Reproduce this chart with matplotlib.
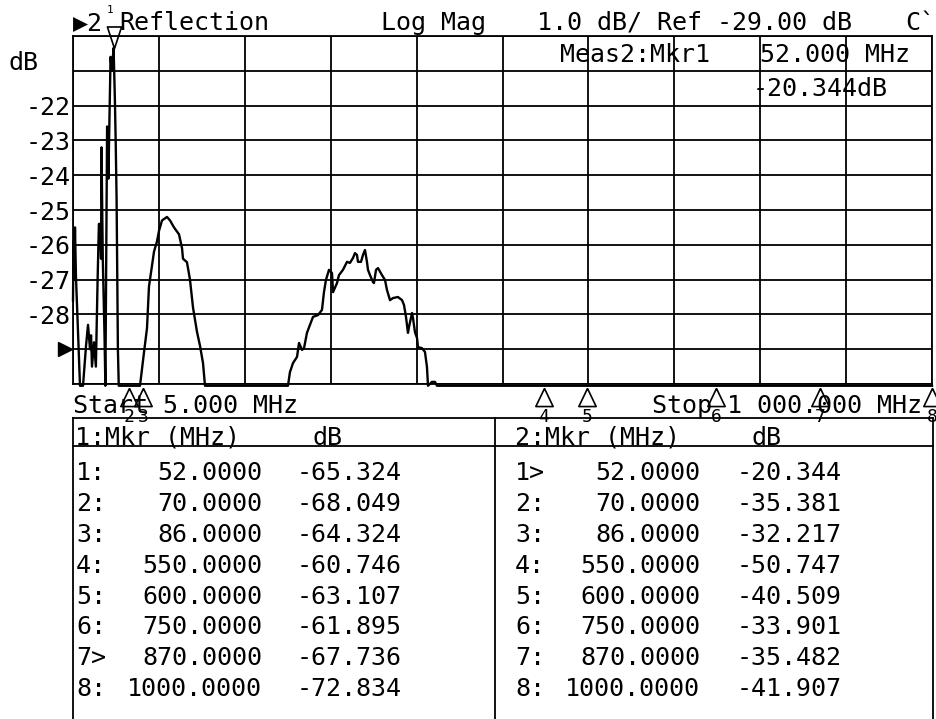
import matplotlib.pyplot as plt
from matplotlib.lines import Line2D

# Meas2 trace (Reflection, Log Mag), -30.05 = clipped at the bottom line
trace_freq = [5.0, 5.6, 6.4, 7.3, 8.4, 10.8, 13.1, 16.6, 20.1, 22.4, 24.7, 25.9, 27.0,
              29.3, 31.5, 33.5, 35.0, 36.5, 37.5, 38.0, 39.5, 41.5, 42.5, 44.5, 46.0,
              48.5, 50.0, 52.0, 53.5, 54.5, 55.5, 57.0, 58.0,
              82.6, 87.2, 90.7, 93.0, 96.5, 98.8, 102.3, 104.6, 108.1, 113.9, 117.4,
              122.0, 127.8, 131.3, 132.4, 137.0, 140.5, 144.0, 148.6, 152.1, 155.6, 157.9,
              254.0, 256.3, 259.8, 264.5, 266.8, 270.3, 272.6, 276.0, 279.5, 283.0,
              288.8, 293.4, 295.7, 298.0, 301.5, 305.0, 306.2, 310.8, 313.1, 317.7,
              322.4, 325.8, 329.3, 331.6, 333.9, 335.1, 338.6, 340.9, 343.2, 345.5,
              346.7, 349.0, 352.5, 353.6, 356.0, 358.3, 362.9, 366.4, 368.7, 372.2,
              375.7, 381.4, 386.1, 388.4, 390.7, 393.0, 394.2, 397.7, 398.8, 401.1,
              403.5, 404.6, 409.2, 412.7, 415.0, 416.2, 420.8, 424.3, 426.6, 1000.0]
trace_db = [-27.6, -25.9, -27.0, -25.5, -26.9, -28.5, -30.05, -30.05, -28.9, -28.3, -29.0, -28.6, -29.5,
            -28.8, -29.5, -27.0, -25.4, -25.4, -26.4, -23.2, -26.4, -28.6, -30.05, -22.6, -24.1,
            -20.6, -21.0, -20.344, -21.8, -23.1, -24.7, -29.0, -30.05,
            -30.05, -29.1, -28.4, -27.2, -26.6, -26.2, -25.9, -25.6, -25.3, -25.2, -25.3,
            -25.5, -25.7, -26.1, -26.4, -26.5, -27.0, -27.8, -28.5, -28.9, -29.4, -30.05,
            -30.05, -29.66, -29.40, -29.22, -28.82, -29.02, -28.97, -28.53, -28.30, -28.07,
            -28.02, -27.87, -27.36, -27.01, -26.72, -26.81, -27.36, -27.10, -26.87, -26.72,
            -26.49, -26.52, -26.38, -26.24, -26.29, -26.49, -26.49, -26.29, -26.15, -26.49,
            -26.72, -26.87, -27.07, -27.10, -26.72, -26.67, -26.87, -27.01, -27.30, -27.59,
            -27.53, -27.50, -27.59, -27.73, -28.07, -28.53, -28.36, -27.96, -28.10, -28.51,
            -28.68, -28.94, -28.97, -29.08, -29.51, -30.05, -29.94, -29.94, -30.05, -30.05]

mkr_freq = [52, 70, 86, 550, 600, 750, 870, 1000]
meas1_db = [-65.324, -68.049, -64.324, -60.746, -63.107, -61.895, -67.736, -72.834]
meas2_db = [-20.344, -35.381, -32.217, -50.747, -40.509, -33.901, -35.482, -41.907]
meas1_active = 7
meas2_active = 1

y_ticks = [-30, -29, -28, -27, -26, -25, -24, -23, -22, -21, -20]
y_labels = ['', '', '-28', '-27', '-26', '-25', '-24', '-23', '-22', '', '']
start_mhz = 5
stop_mhz = 1000
ref_db = -29

W, H = 937, 719
MONO = ['DejaVu Sans Mono', 'DejaVu Sans']
FS = 18


def fx(x):
    return x / W


def fy(y):
    return 1 - y / H


def txt(x, y, s, ha='left', size=FS):
    fig.text(fx(x), fy(y), s, ha=ha, va='baseline', fontsize=size, family=MONO, color='black')


def hline(y, x0, x1):
    fig.add_artist(Line2D([fx(x0), fx(x1)], [fy(y), fy(y)], color='black', lw=1.3))


def vline(x, y0, y1):
    fig.add_artist(Line2D([fx(x), fx(x)], [fy(y0), fy(y1)], color='black', lw=1.3))


fig = plt.figure(figsize=(W / 100, H / 100), dpi=100)
fig.patch.set_facecolor('white')

ax = fig.add_axes([fx(73), fy(384), fx(932) - fx(73), fy(36) - fy(384)])
ax.set_xlim(start_mhz, stop_mhz)
ax.set_ylim(-30, -20)
ax.set_xticks([start_mhz + i * (stop_mhz - start_mhz) / 10 for i in range(11)])
ax.set_yticks(y_ticks)
ax.set_yticklabels(y_labels, family=MONO, fontsize=FS)
ax.tick_params(length=0, labelbottom=False, pad=2)
ax.grid(True, color='black', lw=1.3)
for s in ax.spines.values():
    s.set_linewidth(1.3)

ax.plot(trace_freq, trace_db, color='black', lw=1.7, clip_on=False, zorder=3)

# reference position arrow
ax.plot([-0.009], [ref_db], marker='>', ms=9.5, color='black',
        transform=ax.get_yaxis_transform(), clip_on=False)

# markers: on the trace when in range, otherwise parked under the grid
down_tri = [(0, 0), (-0.33, 1), (0.33, 1), (0, 0)]
up_tri = [(0, 0), (-0.48, -1), (0.48, -1), (0, 0)]
xt = ax.get_xaxis_transform()
for i, (f, d) in enumerate(zip(mkr_freq, meas2_db)):
    if d >= -30:
        ax.plot([f], [d], marker=down_tri, ms=31, mfc='none', mec='black', mew=1.2,
                clip_on=False, zorder=4)
        ax.text(f - 4, 1.075, str(i + 1), fontsize=8, family=MONO, ha='center',
                va='center', transform=xt)
    else:
        ax.plot([f], [-0.012], marker=up_tri, ms=26, mfc='none', mec='black', mew=1.2,
                transform=xt, clip_on=False, zorder=4)
        ax.text(f, -0.095, str(i + 1), fontsize=13, family=MONO, ha='center',
                va='center', transform=xt)

# header lines
txt(73, 30, '\u25b62')
txt(119, 30, 'Reflection')
txt(381, 30, 'Log Mag')
txt(537, 30, '1.0 dB/ Ref -29.00 dB')
txt(905, 30, 'C`')
txt(8, 70, 'dB')
txt(560, 62, 'Meas2:Mkr1')
txt(760, 62, '%.3f MHz' % mkr_freq[meas2_active - 1])
txt(753, 96, '%.3fdB' % meas2_db[meas2_active - 1])

txt(73, 413, 'Start %.3f MHz' % start_mhz)
txt(652, 413, 'Stop 1 000.000 MHz')

# marker tables
hline(418, 73, 933)
hline(446, 73, 933)
vline(73, 418, 725)
vline(495, 418, 725)
vline(933, 418, 725)
txt(75, 445, '1:Mkr (MHz)')
txt(313, 445, 'dB')
txt(515, 445, '2:Mkr (MHz)')
txt(752, 445, 'dB')

for i in range(len(mkr_freq)):
    yb = 480 + 30.9 * i
    n = i + 1
    txt(76, yb, '%d%s' % (n, '>' if n == meas1_active else ':'))
    txt(262, yb, '%.4f' % mkr_freq[i], ha='right')
    txt(297, yb, '%.3f' % meas1_db[i])
    txt(515, yb, '%d%s' % (n, '>' if n == meas2_active else ':'))
    txt(700, yb, '%.4f' % mkr_freq[i], ha='right')
    txt(737, yb, '%.3f' % meas2_db[i])

fig.savefig('out.png', dpi=100, facecolor='white')
